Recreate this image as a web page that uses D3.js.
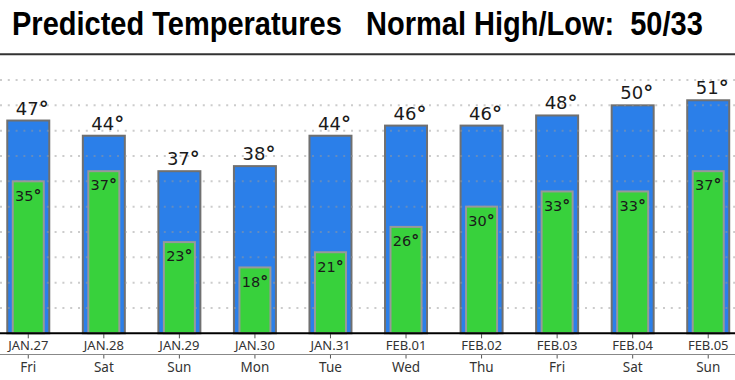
<!DOCTYPE html>
<html><head><meta charset="utf-8">
<script src="https://cdn.jsdelivr.net/npm/d3@7"></script>
<style>
html,body{margin:0;padding:0;background:#fff;}
svg{display:block;}
</style></head>
<body>
<svg id="chart" width="735" height="380"></svg>
<script>
const titleText = "Predicted Temperatures   Normal High/Low:  50/33";
const dates = ["JAN.27","JAN.28","JAN.29","JAN.30","JAN.31","FEB.01","FEB.02","FEB.03","FEB.04","FEB.05"];
const days = ["Fri","Sat","Sun","Mon","Tue","Wed","Thu","Fri","Sat","Sun"];
const highs = [47,44,37,38,44,46,46,48,50,51];
const lows = [35,37,23,18,21,26,30,33,33,37];
const gridTicks = [10,15,20,25,30,35,40,45,50,55];

const W = 735, H = 380;
const svg = d3.select("#chart");

// title (condensed by horizontal scaling to the reference width)
const tg = svg.append("g");
const title = tg.append("text")
  .attr("x", 0).attr("y", 0)
  .attr("font-family", "'Liberation Sans Narrow', 'Arial Narrow', 'Liberation Sans', sans-serif")
  .attr("font-weight", "bold")
  .attr("font-size", 34)
  .attr("fill", "#000")
  .style("white-space", "pre")
  .text(titleText);
const tLen = title.node().getComputedTextLength();
tg.attr("transform", `translate(12,35) scale(${691 / tLen},1)`);

svg.append("line").attr("x1",0).attr("x2",W).attr("y1",54.2).attr("y2",54.2)
  .attr("stroke","#333").attr("stroke-width",2);

const x = d3.scaleBand().domain(dates).range([-9.5, 746]).padding(0);
const y = d3.scaleLinear().domain([5,55]).range([333.3, 80]);
const cx = d => x(d) + x.bandwidth()/2;
const data = dates.map((d,i)=>({date:d, day:days[i], hi:highs[i], lo:lows[i]}));

const blueW = 42, greenW = 31;

// blue (high) bars
svg.append("g").selectAll("rect").data(data).join("rect")
  .attr("x", d => cx(d.date) - blueW/2)
  .attr("y", d => y(d.hi))
  .attr("width", blueW)
  .attr("height", d => y(5) - y(d.hi))
  .attr("fill", "#2b7fe9")
  .attr("stroke", "#707070").attr("stroke-width", 2);

// gridlines
svg.append("g").selectAll("line").data(gridTicks).join("line")
  .attr("x1", 0).attr("x2", W)
  .attr("y1", d => y(d)).attr("y2", d => y(d))
  .attr("stroke", "#999").attr("stroke-opacity", 0.5)
  .attr("stroke-width", 2).attr("stroke-dasharray", "2,5.8");

// green (low) bars
svg.append("g").selectAll("rect").data(data).join("rect")
  .attr("x", d => cx(d.date) - greenW/2)
  .attr("y", d => y(d.lo))
  .attr("width", greenW)
  .attr("height", d => y(5) - y(d.lo))
  .attr("fill", "#38d13c")
  .attr("stroke", "#999").attr("stroke-width", 2);

// high labels
const hl = svg.append("g").selectAll("text").data(data).join("text")
  .attr("x", d => cx(d.date) + 4)
  .attr("y", d => y(d.hi) - 6)
  .attr("text-anchor", "middle")
  .attr("font-family", "'DejaVu Sans', sans-serif")
  .attr("font-size", 18)
  .attr("fill", "#1a1a1a");
hl.append("tspan").text(d => d.hi);
hl.append("tspan").attr("font-weight","bold").attr("font-size",20).text("°");

// low labels
const ll = svg.append("g").selectAll("text").data(data).join("text")
  .attr("x", d => cx(d.date))
  .attr("y", d => y(d.lo) + 19.3)
  .attr("text-anchor", "middle")
  .attr("font-family", "'DejaVu Sans', sans-serif")
  .attr("font-size", 14.5)
  .attr("fill", "#1a1a1a");
ll.append("tspan").text(d => d.lo);
ll.append("tspan").attr("font-weight","bold").attr("font-size",16).text("°");

// date axis
const ax1 = svg.append("g").attr("transform","translate(0,333.3)")
  .call(d3.axisBottom(x).tickSize(5).tickSizeOuter(0).tickPadding(2.5));
ax1.select(".domain").remove();
ax1.selectAll(".tick line").attr("stroke","#555");
ax1.selectAll(".tick text").attr("font-family","'Noto Sans', sans-serif").attr("font-size",13).attr("fill","#333");
svg.append("line").attr("x1",0).attr("x2",W).attr("y1",333.3).attr("y2",333.3)
  .attr("stroke","#000").attr("stroke-width",2);

// day axis
const ax2 = svg.append("g").attr("transform","translate(0,354.5)")
  .call(d3.axisBottom(x).tickSize(4).tickSizeOuter(0).tickPadding(4.3).tickFormat((d,i)=>days[i]));
ax2.select(".domain").remove();
ax2.selectAll(".tick line").attr("stroke","#555");
ax2.selectAll(".tick text").attr("font-family","'Noto Sans', sans-serif").attr("font-size",13.5).attr("fill","#333");
svg.append("line").attr("x1",0).attr("x2",W).attr("y1",354.5).attr("y2",354.5)
  .attr("stroke","#888").attr("stroke-width",1);
</script>
</body></html>
